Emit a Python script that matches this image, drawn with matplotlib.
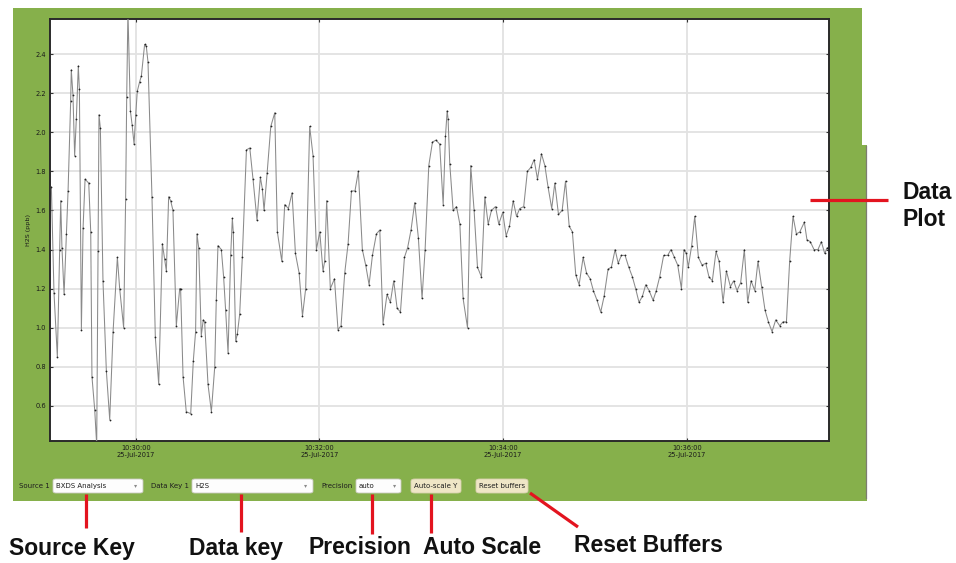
import matplotlib
matplotlib.use("Agg")
import matplotlib.pyplot as plt
import matplotlib.dates as mdates
from matplotlib.patches import Rectangle, FancyBboxPatch
from matplotlib.lines import Line2D
import pandas as pd

# H2S readings, seconds after 10:29:00 on 25-Jul-2017
seconds = [
    4.9, 6.6, 8.8, 10.3, 11.0, 11.8, 13.2, 14.7, 15.8, 17.5, 17.9, 19.0, 20.1, 21.2,
    22.5, 23.2, 24.5, 25.6, 26.9, 29.3, 30.6, 31.4, 33.2, 34.5, 35.4, 36.0, 36.9,
    38.6, 40.8, 43.0, 45.2, 48.0, 49.5, 52.1, 53.4, 54.1, 54.9, 56.5, 57.6, 58.9,
    60.0, 61.0, 62.6, 63.7, 65.8, 66.9, 68.0, 70.6, 72.8, 75.0, 77.4, 78.9, 80.0,
    81.5, 82.8, 84.3, 86.5, 88.7, 89.3, 90.9, 93.0, 95.9, 97.6, 99.1, 100.0, 101.1,
    102.8, 104.1, 105.0, 107.2, 109.4, 111.6, 112.6, 113.7, 115.9, 117.4, 118.7,
    120.3, 122.0, 123.1, 123.7, 125.3, 126.4, 127.9, 129.6,
    132.3, 134.5, 136.6, 139.2, 141.4, 142.7, 143.8, 145.8, 148.2, 150.8, 152.5,
    155.4, 157.3, 159.7, 162.1, 164.3, 166.7, 168.9, 171.0, 173.6, 175.8, 178.0,
    180.2, 182.3, 183.4, 184.7, 187.1, 189.8, 192.1, 194.1, 196.5, 198.7, 200.9,
    203.2, 205.4, 208.0, 210.2, 212.4, 214.6, 217.2, 219.4, 221.5, 224.1, 226.3,
    228.5, 230.7, 232.9, 235.5, 237.6, 239.8, 242.2, 244.6, 247.0, 249.0, 251.4,
    253.8, 256.1, 258.5,
    260.8, 262.3, 263.4, 264.0, 265.1, 267.3, 269.5, 271.7, 273.8, 276.7, 278.8,
    281.0, 283.2, 285.8, 288.0, 290.2, 292.3, 295.0, 297.1, 299.7, 301.9, 304.1,
    306.5, 308.7, 310.8, 313.4, 315.8, 318.0, 320.2, 322.4, 325.0, 327.2, 329.3,
    331.7, 333.7, 336.1, 338.5, 340.7, 343.1, 345.2, 347.4, 349.6, 352.2, 354.4,
    356.8, 358.9, 361.3, 363.7, 365.9, 368.5, 370.7, 373.1, 375.1, 377.2, 379.6,
    382.0, 384.4,
    386.5, 388.7, 390.9, 393.1, 395.3, 397.9, 400.0, 402.2, 404.8, 407.4, 409.6,
    411.8, 414.0, 416.4, 418.1, 419.6, 420.9, 423.1, 425.1, 427.5, 429.9, 432.3,
    434.4, 436.6, 439.0, 441.0, 443.6, 445.8, 448.4, 450.5, 452.7, 455.1, 457.5,
    459.7, 461.9, 464.3, 466.4, 468.8, 471.0, 473.2, 475.6, 478.0, 480.6, 482.8,
    485.0, 487.1, 489.3, 491.5, 493.7, 496.7, 498.4, 500.6, 503.0, 505.6, 507.8,
    510.0, 511.7,
]
h2s_ppb = [
    1.72, 1.18, 0.85, 1.40, 1.65, 1.41, 1.17, 1.48, 1.70, 2.16, 2.32, 2.19, 1.88, 2.07,
    2.34, 2.22, 0.99, 1.51, 1.76, 1.74, 1.49, 0.75, 0.58, 0.40, 1.39, 2.09, 2.02,
    1.24, 0.78, 0.53, 0.98, 1.36, 1.20, 1.00, 1.66, 2.18, 2.62, 2.11, 2.04, 1.94,
    2.09, 2.21, 2.26, 2.29, 2.45, 2.44, 2.36, 1.67, 0.95, 0.71, 1.43, 1.35, 1.29,
    1.67, 1.65, 1.60, 1.01, 1.20, 1.20, 0.75, 0.57, 0.56, 0.83, 0.98, 1.48, 1.41,
    0.96, 1.04, 1.03, 0.71, 0.57, 0.80, 1.14, 1.42, 1.40, 1.26, 1.09,
    0.87, 1.37, 1.56, 1.49, 0.93, 0.97, 1.07, 1.36,
    1.91, 1.92, 1.76, 1.55, 1.77, 1.71, 1.60, 1.79, 2.03, 2.10, 1.49,
    1.34, 1.63, 1.61, 1.69, 1.38, 1.28, 1.06, 1.20, 2.03, 1.88, 1.40,
    1.49, 1.29, 1.34, 1.65, 1.20, 1.25, 0.99, 1.01, 1.28, 1.43, 1.70,
    1.70, 1.80, 1.40, 1.32, 1.22, 1.37, 1.48, 1.50, 1.02, 1.17, 1.13,
    1.24, 1.10, 1.08, 1.36, 1.41, 1.50, 1.64, 1.46, 1.15, 1.40, 1.83,
    1.95, 1.96, 1.94,
    1.63, 1.98, 2.11, 2.07, 1.84, 1.60, 1.62, 1.53, 1.15, 1.00, 1.83,
    1.60, 1.31, 1.26, 1.67, 1.53, 1.60, 1.62, 1.53, 1.59, 1.47, 1.52,
    1.65, 1.57, 1.61, 1.62, 1.80, 1.82, 1.86, 1.76, 1.89, 1.83, 1.72,
    1.61, 1.74, 1.58, 1.60, 1.75, 1.52, 1.49, 1.27, 1.22, 1.36, 1.28,
    1.25, 1.19, 1.14, 1.08, 1.16, 1.30, 1.31, 1.40, 1.33, 1.37, 1.37,
    1.31, 1.26,
    1.20, 1.13, 1.16, 1.22, 1.19, 1.14, 1.19, 1.26, 1.37, 1.37, 1.40,
    1.36, 1.32, 1.20, 1.40, 1.38, 1.31, 1.42, 1.57, 1.36, 1.32, 1.33,
    1.26, 1.24, 1.39, 1.34, 1.13, 1.29, 1.21, 1.24, 1.19, 1.23, 1.40,
    1.13, 1.24, 1.19, 1.34, 1.21, 1.09, 1.03, 0.98, 1.04, 1.01, 1.03,
    1.03, 1.34, 1.57, 1.48, 1.49, 1.54, 1.45, 1.44, 1.40, 1.40, 1.44,
    1.38, 1.41,
]
y_ticks = [0.6, 0.8, 1.0, 1.2, 1.4, 1.6, 1.8, 2.0, 2.2, 2.4]
y_range = (0.42, 2.58)
x_range_seconds = (4.0, 512.8)
start_time = pd.Timestamp("2017-07-25 10:29:00")

source_label, source_value = "Source 1", "BXDS Analysis"
key_label, key_value = "Data Key 1", "H2S"
precision_label, precision_value = "Precision", "auto"
button_labels = ["Auto-scale Y", "Reset buffers"]
callouts = ["Source Key", "Data key", "Precision", "Auto Scale", "Reset Buffers"]

W, H = 956, 563
GREEN = "#86b04b"
RED = "#e3141f"

fig = plt.figure(figsize=(W / 100, H / 100), dpi=100)
fig.patch.set_facecolor("white")


def fx(x):
    return x / W


def fy(y):
    return 1 - y / H


def rect(x0, y0, x1, y1, **kw):
    fig.patches.append(Rectangle((fx(x0), fy(y1)), (x1 - x0) / W, (y1 - y0) / H,
                                 transform=fig.transFigure, **kw))


# green application panel
rect(13, 8, 862, 501, facecolor=GREEN, edgecolor="none", zorder=0)
rect(862, 145, 867, 501, facecolor=GREEN, edgecolor="none", zorder=0)
fig.add_artist(Line2D([fx(865.5), fx(865.5)], [fy(146), fy(498)], color="#7d7d70",
                      lw=0.9, transform=fig.transFigure))

ax = fig.add_axes([fx(50), fy(441), (829 - 50) / W, (441 - 19) / H])
ax.set_facecolor("white")
ax.set_zorder(2)

times = [start_time + pd.Timedelta(seconds=s) for s in seconds]
ax.plot(times, h2s_ppb, color="#8a8a8a", lw=0.75, marker="o", ms=1.3,
        mfc="#222222", mec="#222222", mew=0, zorder=3)

ax.set_xlim(start_time + pd.Timedelta(seconds=x_range_seconds[0]),
            start_time + pd.Timedelta(seconds=x_range_seconds[1]))
ax.set_ylim(*y_range)
ax.set_yticks(y_ticks)
ax.set_yticklabels([f"{v:.1f}" for v in y_ticks])
ax.xaxis.set_major_locator(mdates.MinuteLocator(byminute=range(0, 60, 2)))
ax.xaxis.set_major_formatter(mdates.DateFormatter("%H:%M:%S\n%d-%b-%Y"))
ax.grid(True, color="#e2e2e2", lw=1.3, zorder=0)
ax.set_axisbelow(True)
ax.tick_params(axis="both", direction="in", length=2.5, width=0.8, color="#333333",
               labelsize=4.8, labelcolor="#1a1a1a", pad=3,
               top=True, right=True)
for lab in ax.get_xticklabels():
    lab.set_horizontalalignment("center")
    lab.set_linespacing(1.1)
ax.set_ylabel("H2S (ppb)", fontsize=4.6, color="#1a1a1a", labelpad=3)
for sp in ax.spines.values():
    sp.set_color("#2a2a2a")
    sp.set_linewidth(1.4)

# control bar
ctrl_y = 486
label_kw = dict(fontsize=5, color="#1e1e1e", va="center", ha="left",
                transform=fig.transFigure)


def combo(x0, x1, div, text):
    fig.patches.append(FancyBboxPatch((fx(x0), fy(493)), (x1 - x0) / W, 14 / H,
                                      boxstyle="round,pad=0,rounding_size=0.003",
                                      transform=fig.transFigure, facecolor="#fdfdfd",
                                      edgecolor="#c9c9c0", lw=0.6, zorder=2))
    fig.add_artist(Line2D([fx(div), fx(div)], [fy(480.5), fy(491.5)], color="#d0d0d0",
                          lw=0.6, transform=fig.transFigure))
    fig.text(fx(x0 + 3), fy(ctrl_y), text, **label_kw)
    fig.text(fx((div + x1) / 2), fy(ctrl_y), "\u25be", fontsize=4.5, color="#8a8a8a",
             ha="center", va="center", transform=fig.transFigure)


def button(x0, x1, text):
    fig.patches.append(FancyBboxPatch((fx(x0), fy(493)), (x1 - x0) / W, 14 / H,
                                      boxstyle="round,pad=0,rounding_size=0.004",
                                      transform=fig.transFigure, facecolor="#efe6c6",
                                      edgecolor="#d9d1b0", lw=0.6, zorder=2))
    fig.text(fx((x0 + x1) / 2), fy(ctrl_y), text, fontsize=5, color="#1e1e1e",
             ha="center", va="center", transform=fig.transFigure)


fig.text(fx(19), fy(ctrl_y), source_label, **label_kw)
combo(53, 143, 129, source_value)
fig.text(fx(151), fy(ctrl_y), key_label, **label_kw)
combo(192, 313, 298, key_value)
fig.text(fx(321), fy(ctrl_y), precision_label, **label_kw)
combo(356, 401, 388, precision_value)
button(411, 461, button_labels[0])
button(476, 528, button_labels[1])

# callouts, drawn above the plot panel
red_kw = dict(color=RED, lw=2.3, transform=fig.transFigure, solid_capstyle="butt",
              zorder=10)
fig.add_artist(Line2D([fx(86), fx(86)], [fy(494), fy(528)], **red_kw))
fig.add_artist(Line2D([fx(241), fx(241)], [fy(494), fy(532)], **red_kw))
fig.add_artist(Line2D([fx(372), fx(372)], [fy(494), fy(534)], **red_kw))
fig.add_artist(Line2D([fx(431), fx(431)], [fy(494), fy(533)], **red_kw))
fig.add_artist(Line2D([fx(530), fx(578)], [fy(493), fy(527)], **red_kw))
fig.add_artist(Line2D([fx(810), fx(888)], [fy(200), fy(200)], **red_kw))

call_kw = dict(fontsize=16.5, fontweight="bold", color="#111111", va="center",
               ha="left", family="Liberation Sans", transform=fig.transFigure)
fig.text(fx(9), fy(548), callouts[0], **call_kw)
fig.text(fx(189), fy(548), callouts[1], **call_kw)
fig.text(fx(309), fy(548), callouts[2], **call_kw)
fig.text(fx(423), fy(547), callouts[3], **call_kw)
fig.text(fx(574), fy(545), callouts[4], **call_kw)
fig.text(fx(903), fy(192), "Data", **call_kw)
fig.text(fx(903), fy(220), "Plot", **call_kw)

fig.savefig("out.png", dpi=100, facecolor="white")
